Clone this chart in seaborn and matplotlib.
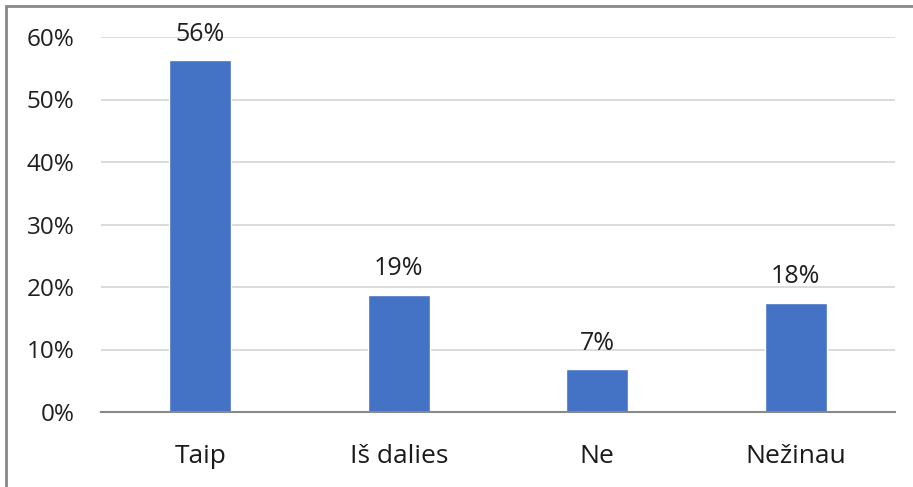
import matplotlib
matplotlib.use("Agg")
import matplotlib.pyplot as plt
import seaborn as sns
from matplotlib.patches import Rectangle

# survey answers (share of respondents)
categories = ["Taip", "Iš dalies", "Ne", "Nežinau"]
values = [0.563, 0.188, 0.069, 0.175]
labels = ["56%", "19%", "7%", "18%"]
yticks = [0, 0.1, 0.2, 0.3, 0.4, 0.5, 0.6]

sns.set_theme(style="white")
plt.rcParams["font.family"] = ["Open Sans", "DejaVu Sans"]
fs = 17.5

fig = plt.figure(figsize=(9.13, 4.87), dpi=100)
ax = fig.add_axes([101 / 913, 75 / 487, 794 / 913, 375 / 487])

sns.barplot(x=categories, y=values, color="#4472C4", width=0.31,
            saturation=1, ax=ax)

ax.set_ylim(0, 0.6)
ax.set_xlim(-0.5, 3.5)
ax.set_yticks(yticks)
ax.set_yticklabels([f"{int(round(t * 100))}%" for t in yticks])
ax.grid(axis="y", color="#d9d9d9", linewidth=1.3)
ax.set_axisbelow(True)
for s in ["top", "right", "left"]:
    ax.spines[s].set_visible(False)
ax.spines["bottom"].set_color("#898989")
ax.spines["bottom"].set_linewidth(1.5)
ax.tick_params(axis="y", length=0, pad=19, labelsize=fs, labelcolor="#1f1f1f")
ax.tick_params(axis="x", length=0, pad=23, labelsize=19, labelcolor="#1a1a1a")
ax.set_xlabel("")
ax.set_ylabel("")

for i, (v, t) in enumerate(zip(values, labels)):
    ax.text(i, v + 0.031, t, ha="center", va="baseline", fontsize=18,
            color="#1f1f1f", clip_on=False)

# outer frame (top and left edges visible)
fig.patches.append(Rectangle((6 / 913, -0.01), 1.02, (487 - 6) / 487 + 0.01,
                             transform=fig.transFigure, fill=False,
                             edgecolor="#888888", linewidth=2))

fig.savefig("out.png", dpi=100)
